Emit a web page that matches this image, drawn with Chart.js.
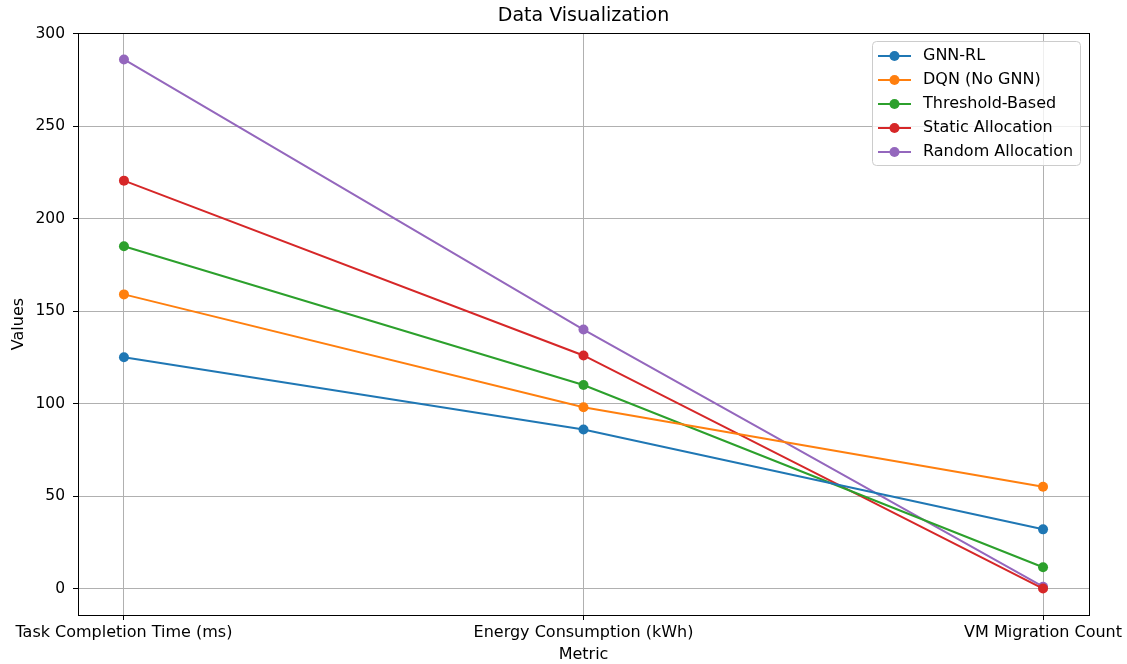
<!DOCTYPE html>
<html>
<head>
<meta charset="utf-8">
<script src="https://cdn.jsdelivr.net/npm/chart.js@4.4.1/dist/chart.umd.min.js"></script>
<style>
  html, body { margin: 0; padding: 0; background: #fff; }
  #wrap { width: 1127px; height: 664px; position: relative; }
</style>
</head>
<body>
<div id="wrap"><canvas id="chart"></canvas></div>
<script>
// values
const categories = ['Task Completion Time (ms)', 'Energy Consumption (kWh)', 'VM Migration Count'];
const gnnRL = [125, 86, 32];
const dqnNoGnn = [159, 98, 55];
const thresholdBased = [185, 110, 11.5];
const staticAlloc = [220.5, 126, 0];
const randomAlloc = [286, 140, 1];
const yTicks = [0, 50, 100, 150, 200, 250, 300];

const FONT = 'DejaVu Sans';

const series = [
  { label: 'GNN-RL', data: gnnRL, color: '#1f77b4' },
  { label: 'DQN (No GNN)', data: dqnNoGnn, color: '#ff7f0e' },
  { label: 'Threshold-Based', data: thresholdBased, color: '#2ca02c' },
  { label: 'Static Allocation', data: staticAlloc, color: '#d62728' },
  { label: 'Random Allocation', data: randomAlloc, color: '#9467bd' }
];

// frame, title and legend drawn like matplotlib
const mplExtras = {
  id: 'mplExtras',
  afterDraw(chart) {
    const { ctx, chartArea: a } = chart;
    ctx.save();
    ctx.strokeStyle = '#000';
    ctx.lineWidth = 1;
    ctx.strokeRect(Math.round(a.left) + 0.5, Math.round(a.top) + 0.5,
      Math.round(a.right - a.left), Math.round(a.bottom - a.top));

    // title
    ctx.fillStyle = '#000';
    ctx.font = `19px "${FONT}"`;
    ctx.textAlign = 'center';
    ctx.textBaseline = 'middle';
    ctx.fillText('Data Visualization', (a.left + a.right) / 2, 16);

    // legend
    const bx = 872.5, by = 41.5, bw = 208, bh = 124;
    ctx.beginPath();
    ctx.roundRect(bx, by, bw, bh, 4);
    ctx.fillStyle = 'rgba(255,255,255,0.8)';
    ctx.fill();
    ctx.strokeStyle = '#cccccc';
    ctx.stroke();
    ctx.font = `16px "${FONT}"`;
    ctx.textAlign = 'left';
    chart.data.datasets.forEach((ds, i) => {
      const y = 56 + i * 24;
      ctx.strokeStyle = ds.borderColor;
      ctx.lineWidth = 2;
      ctx.beginPath();
      ctx.moveTo(878, y);
      ctx.lineTo(911, y);
      ctx.stroke();
      ctx.fillStyle = ds.borderColor;
      ctx.beginPath();
      ctx.arc(894.5, y, 5, 0, Math.PI * 2);
      ctx.fill();
      ctx.fillStyle = '#000';
      ctx.fillText(ds.label, 923, y);
    });
    ctx.restore();
  }
};

new Chart(document.getElementById('chart'), {
  type: 'line',
  data: {
    datasets: series.map(s => ({
      label: s.label,
      data: s.data.map((v, i) => ({ x: i, y: v })),
      borderColor: s.color,
      backgroundColor: s.color,
      borderWidth: 2,
      pointRadius: 5,
      pointHoverRadius: 5,
      pointBorderWidth: 0,
      tension: 0,
      fill: false
    }))
  },
  options: {
    responsive: true,
    maintainAspectRatio: false,
    animation: false,
    events: [],
    layout: { padding: { left: 0, top: 33, right: 38, bottom: 0 } },
    plugins: {
      legend: { display: false },
      title: { display: false },
      tooltip: { enabled: false }
    },
    scales: {
      x: {
        type: 'linear',
        min: -0.1,
        max: 2.1,
        afterBuildTicks: s => { s.ticks = categories.map((c, i) => ({ value: i })); },
        afterFit: s => { s.height = 49; s.paddingLeft = 0; s.paddingRight = 0; },
        ticks: {
          callback: v => categories[v],
          color: '#000',
          font: { family: FONT, size: 16 },
          maxRotation: 0,
          autoSkip: false,
          padding: 3
        },
        grid: { color: '#b0b0b0', lineWidth: 1, tickColor: '#000', tickLength: 5 },
        border: { display: false },
        title: { display: true, text: 'Metric', color: '#000', font: { family: FONT, size: 16 }, padding: { top: 0, bottom: 0 } }
      },
      y: {
        min: -14.3,
        max: 300.3,
        afterBuildTicks: s => { s.ticks = yTicks.map(v => ({ value: v })); },
        afterFit: s => { s.width = 78; },
        ticks: {
          color: '#000',
          font: { family: FONT, size: 15.5 },
          padding: 8
        },
        grid: { color: '#b0b0b0', lineWidth: 1, tickColor: '#000', tickLength: 5 },
        border: { display: false },
        title: { display: true, text: 'Values', color: '#000', font: { family: FONT, size: 16 }, padding: { top: 9, bottom: 0 } }
      }
    }
  },
  plugins: [mplExtras]
});
</script>
</body>
</html>
